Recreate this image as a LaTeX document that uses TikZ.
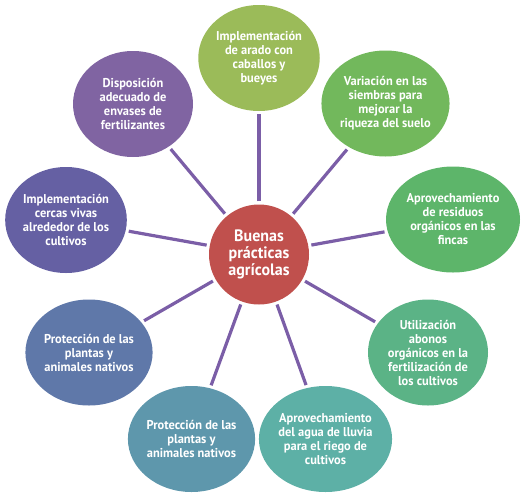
\documentclass[tikz,border=0pt]{standalone}
\usepackage{fontspec}
\setmainfont{PT Sans}[FakeStretch=0.97]
\usetikzlibrary{shapes.geometric}
\definecolor{cred}{HTML}{C0504D}
\definecolor{cA}{HTML}{9BBB59}
\definecolor{cB}{HTML}{72B85C}
\definecolor{cC}{HTML}{5DB56A}
\definecolor{cD}{HTML}{5BB386}
\definecolor{cE}{HTML}{5DB0A6}
\definecolor{cF}{HTML}{5E97AC}
\definecolor{cG}{HTML}{5F78A9}
\definecolor{cH}{HTML}{6560A3}
\definecolor{cI}{HTML}{8064A2}
\definecolor{cline}{HTML}{7B5EA7}
\tikzset{
  bubble/.style={ellipse, fill=#1, draw=none, inner sep=0pt, minimum width=120pt, minimum height=106pt,
    text=white, align=center, font=\bfseries\fontsize{12.8}{14}\selectfont},
  hub/.style={circle, fill=cred, draw=none, inner sep=0pt, minimum size=100pt,
    text=white, align=center, font=\bfseries\fontsize{16.5}{17}\selectfont},
  link/.style={draw=cline, line width=3.2pt, shorten <=3pt, shorten >=3pt}
}
\begin{document}
\begin{tikzpicture}[x=1pt,y=-1pt]
\useasboundingbox (0,0) rectangle (524,498);
\node[hub] (c) at (259,254.5) {Buenas\\prácticas\\agrícolas};
\node[bubble=cA] (n1) at (259,58) {Implementación\\de arado con\\caballos y\\bueyes};
\node[bubble=cB] (n2) at (385.5,103.5) {Variación en las\\siembras para\\mejorar la\\riqueza del suelo};
\node[bubble=cC, minimum width=134pt] (n3) at (453,219.5) {Aprovechamiento\\de residuos\\orgánicos en las\\fincas};
\node[bubble=cD] (n4) at (428,352.5) {Utilización\\abonos\\orgánicos en la\\fertilización de\\los cultivos};
\node[bubble=cE, minimum width=127pt] (n5) at (325.5,439) {Aprovechamiento\\del agua de lluvia\\para el riego de\\cultivos};
\node[bubble=cF] (n6) at (191.5,439) {Protección de las\\plantas y\\animales nativos};
\node[bubble=cG] (n7) at (89,352.5) {Protección de las\\plantas y\\animales nativos};
\node[bubble=cH] (n8) at (66,220) {Implementación\\cercas vivas\\alrededor de los\\cultivos};
\node[bubble=cI] (n9) at (133,104) {Disposición\\adecuado de\\envases de\\fertilizantes};
\foreach \n in {n1,n2,n3,n4,n5,n6,n7,n8,n9}
  \draw[link] (c) -- (\n);
\end{tikzpicture}
\end{document}
